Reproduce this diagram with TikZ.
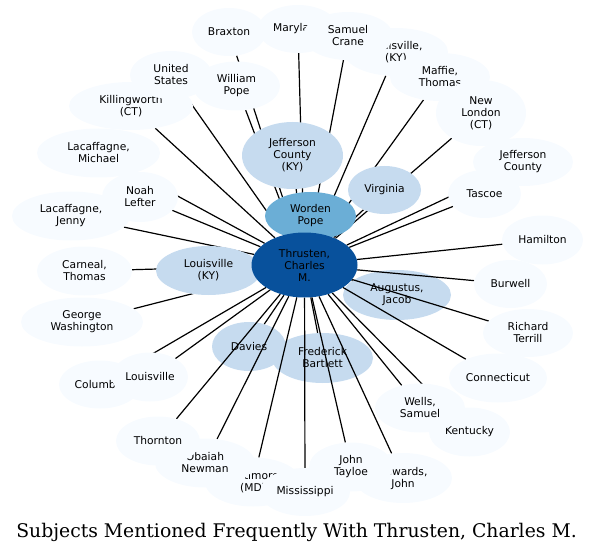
\documentclass[tikz,border=0pt]{standalone}
\usepackage{fontspec}
\setmainfont{DejaVu Sans}
\newfontfamily\titlefont{DejaVu Serif}
\usetikzlibrary{shapes.geometric}

\definecolor{pale}{HTML}{F7FBFF}
\definecolor{light}{HTML}{C6DBEF}
\definecolor{mid}{HTML}{6BAED6}
\definecolor{deep}{HTML}{08519C}

\pgfdeclarelayer{under}
\pgfdeclarelayer{links}
\pgfsetlayers{under,links,main}

\begin{document}
\begin{tikzpicture}[x=1pt,y=-1pt,
every node/.style={ellipse,inner sep=0pt,align=center,font=\fontsize{10.7}{12}\selectfont},
outer/.style={fill=pale},
inner/.style={fill=light},
sz/.style 2 args={minimum width=#1pt,minimum height=#2pt}]
\useasboundingbox (0,0) rectangle (593,553);

% nodes crossed by the links
\begin{pgfonlayer}{under}
\node[inner,sz={108}{50}] (aj) at (397,295) {Augustus,\\Jacob};
\node[inner,sz={74}{49}] (dav) at (249,346.5) {Davies};
\node[inner,sz={101}{50}] (fb) at (322.5,358) {Frederick\\Bartlett};
\end{pgfonlayer}

% outer ring
\node[outer,sz={96}{49}] (bal) at (253,482) {Baltimore\\(MD)};
\node[outer,sz={74}{48}] (brx) at (229,32) {Braxton};
\node[outer,sz={73}{48}] (bur) at (510.5,284) {Burwell};
\node[outer,sz={95}{49}] (car) at (84.5,271) {Carneal,\\Thomas};
\node[outer,sz={82}{48}] (col) at (100,384.5) {Columbia};
\node[outer,sz={98}{49}] (con) at (498,378) {Connecticut};
\node[outer,sz={98}{50}] (edw) at (403,478) {Edwards,\\John};
\node[outer,sz={122}{49}] (geo) at (82,322) {George\\Washington};
\node[outer,sz={81}{49}] (ham) at (542.5,240) {Hamilton};
\node[outer,sz={100}{48}] (jc) at (523,162) {Jefferson\\County};
\node[outer,sz={84}{49}] (jt) at (351,467) {John\\Tayloe};
\node[outer,sz={81}{49}] (ken) at (469.5,432) {Kentucky};
\node[outer,sz={124}{48}] (kil) at (131,106) {Killingworth\\(CT)};
\node[outer,sz={118}{49}] (lj) at (71,216) {Lacaffagne,\\Jenny};
\node[outer,sz={123}{49}] (lm) at (98.5,153) {Lacaffagne,\\Michael};
\node[outer,sz={76}{49}] (lou) at (150,377) {Louisville};
\node[outer,sz={104}{48}] (louk) at (396,52) {Louisville,\\(KY)};
\node[outer,sz={100}{48}] (maf) at (440,77) {Maffie,\\Thomas};
\node[outer,sz={80}{48}] (mar) at (298,29) {Maryland};
\node[outer,sz={90}{48}] (mis) at (305,492) {Mississippi};
\node[outer,sz={90}{66}] (nl) at (481,113) {New\\London\\(CT)};
\node[outer,sz={76}{50}] (nle) at (140,197) {Noah\\Lefter};
\node[outer,sz={100}{49}] (ob) at (205,463) {Obaiah\\Newman};
\node[outer,sz={90}{48}] (rt) at (528,333) {Richard\\Terrill};
\node[outer,sz={90}{48}] (sc) at (348,36) {Samuel\\Crane};
\node[outer,sz={73}{48}] (tas) at (484.5,194) {Tascoe};
\node[outer,sz={84}{49}] (tho) at (158,441) {Thornton};
\node[outer,sz={82}{48}] (us) at (171,75) {United\\States};
\node[outer,sz={90}{49}] (ws) at (420,408) {Wells,\\Samuel};
\node[outer,sz={87}{49}] (wp) at (236.5,86) {William\\Pope};

% inner ring and centre
\node[inner,sz={101}{67}] (jck) at (292.5,155.5) {Jefferson\\County\\(KY)};
\node[inner,sz={73}{48}] (va) at (384.5,190) {Virginia};
\node[inner,sz={105}{49}] (lky) at (208.5,270.5) {Louisville\\(KY)};
\node[fill=mid,sz={91}{48}] (wop) at (310.5,216) {Worden\\Pope};
\node[fill=deep,sz={106}{65}] (t) at (304.5,265) {Thrusten,\\Charles\\M.};

\begin{pgfonlayer}{links}
\foreach \n in {aj,dav,fb,bal,brx,bur,car,col,con,edw,geo,ham,jc,jt,ken,kil,
  lj,lm,lou,louk,maf,mar,mis,nl,nle,ob,rt,sc,tas,tho,us,ws,wp,jck,va,lky}
  \draw[line width=1.2pt] (\n) -- (t);
\end{pgfonlayer}

\node[rectangle,anchor=base] (title) at (296.5,537)
  {\titlefont\fontsize{18.8}{22}\selectfont Subjects Mentioned Frequently With Thrusten, Charles M.};
\end{tikzpicture}
\end{document}
